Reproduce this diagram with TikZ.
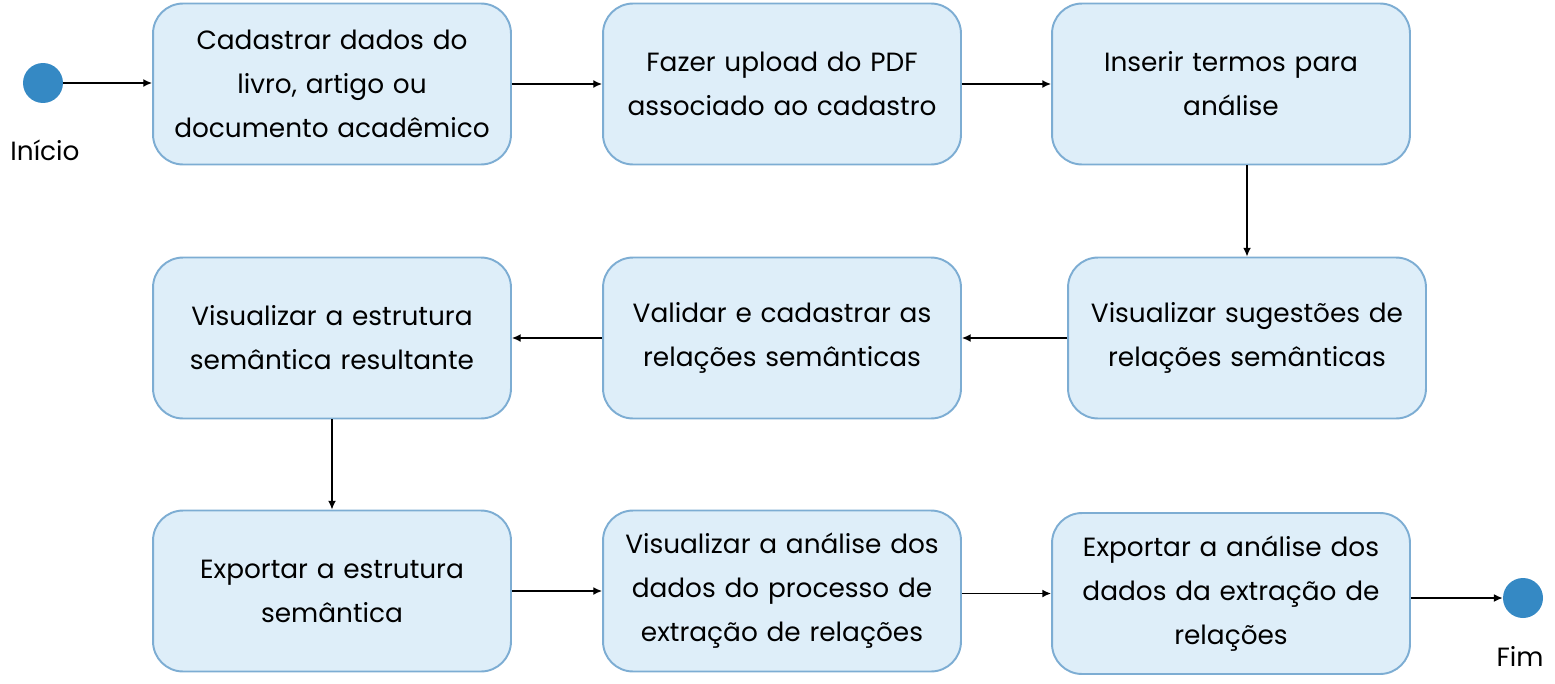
\documentclass[tikz,border=0pt]{standalone}
\usepackage{fontspec}
\setmainfont{Poppins}
\usetikzlibrary{arrows.meta}
\definecolor{boxfill}{HTML}{DEEEF9}
\definecolor{boxline}{HTML}{7DADD3}
\definecolor{dotblue}{HTML}{3589C4}
\begin{document}
\begin{tikzpicture}[x = 0.02cm, y = -0.02cm,
  etapa/.style = {draw=boxline, fill=boxfill, line width=1.1pt, rounded corners=0.6cm,
    minimum width=7.16cm, minimum height=3.22cm, text width=6.9cm, align=center,
    inner sep=0pt, font=\fontsize{15}{25}\selectfont},
  ponto/.style = {circle, fill=dotblue, minimum size=0.8cm, inner sep=0pt},
  rotulo/.style = {font=\fontsize{15}{25}\selectfont},
  seta/.style = {-{Latex[length=5pt,width=4.5pt]}, line width=0.8pt}]
\useasboundingbox (0,0) rectangle (1555,683);
% inicio e fim
\node [ponto] (inicio) at (43,83) {};
\node [rotulo] (inicioTxt) at (45,150) {Início};
\node [ponto] (fim) at (1523,598) {};
\node [rotulo] (fimTxt) at (1520,656) {Fim};
% primeira linha
\node [etapa] (cadastrar) at (332,84) {Cadastrar dados do\\livro, artigo ou\\documento acadêmico};
\node [etapa] (upload) at (782,84) {Fazer upload do PDF\\associado ao cadastro};
\node [etapa] (termos) at (1231,84) {Inserir termos para\\análise};
% segunda linha
\node [etapa] (estrutura) at (332,338) {Visualizar a estrutura\\semântica resultante};
\node [etapa] (validar) at (782,338) {Validar e cadastrar as\\relações semânticas};
\node [etapa] (sugestoes) at (1247,338) {Visualizar sugestões de\\relações semânticas};
% terceira linha
\node [etapa] (exportar) at (332,591) {Exportar a estrutura\\semântica};
\node [etapa] (analise) at (782,591) {Visualizar a análise dos\\dados do processo de\\extração de relações};
\node [etapa] (exportarAnalise) at (1231,593.5) {Exportar a análise dos\\dados da extração de\\relações};
% setas
\draw [seta] (inicio) -- (cadastrar.west |- inicio);
\draw [seta] (cadastrar) -- (upload);
\draw [seta] (upload) -- (termos);
\draw [seta] (sugestoes.north |- termos.south) -- (sugestoes.north);
\draw [seta] (sugestoes) -- (validar);
\draw [seta] (validar) -- (estrutura);
\draw [seta] (estrutura) -- (exportar);
\draw [seta] (exportar) -- (analise);
\draw [seta] (analise.east |- exportarAnalise) -- (exportarAnalise.west);
\draw [seta] (exportarAnalise.east |- fim) -- (fim);
\end{tikzpicture}
\end{document}
